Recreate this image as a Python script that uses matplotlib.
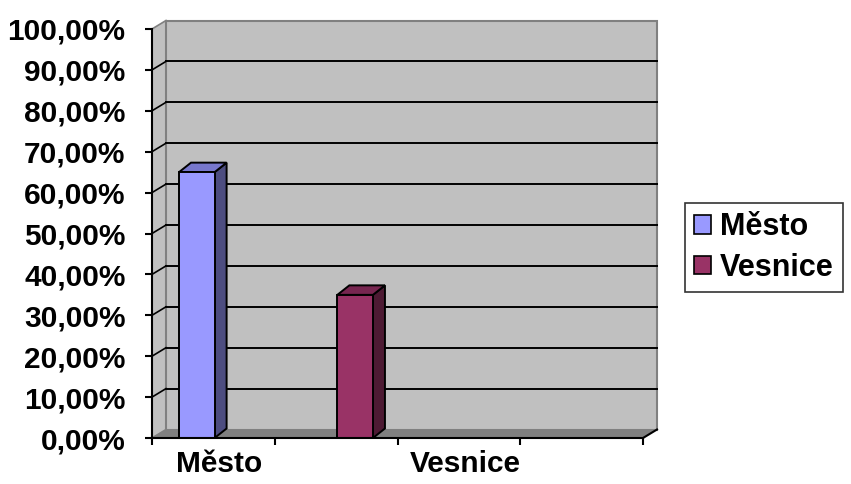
import matplotlib.pyplot as plt
from matplotlib.patches import Polygon, Patch
import numpy as np

# data
categories = ["Město", "", "Vesnice", ""]
series_names = ["Město", "Vesnice"]
mesto = [0.65, np.nan, np.nan, np.nan]
vesnice = [np.nan, 0.35, np.nan, np.nan]
y_ticks = [0.0, 0.1, 0.2, 0.3, 0.4, 0.5, 0.6, 0.7, 0.8, 0.9, 1.0]

front_colors = ["#9999FF", "#993366"]
top_colors = ["#7777CC", "#772650"]
side_colors = ["#4D4D80", "#4D1A33"]

plt.rcParams['font.family'] = ['Liberation Sans', 'DejaVu Sans']
plt.rcParams['font.weight'] = 'bold'
FS = 21.5

fig = plt.figure(figsize=(8.51, 4.84), dpi=100)
W, H = 851, 484
x0_px, x1_px, y0_px, y1_px = 152, 643, 438, 29
ax = fig.add_axes([x0_px / W, (H - y0_px) / H, (x1_px - x0_px) / W, (y0_px - y1_px) / H])
n = len(categories)
ax.set_xlim(0, n)
ax.set_ylim(0, 1)

# depth offsets in data units
px_x = n / (x1_px - x0_px)
px_y = 1.0 / (y0_px - y1_px)
dx, dy = 14 * px_x, 8.5 * px_y
bdx, bdy = 12 * px_x, 9.5 * px_y

wall = "#C0C0C0"
floor = "#808080"
kw = dict(clip_on=False)

# side wall, back wall, floor
ax.add_patch(Polygon([(0, 0), (0, 1), (dx, 1 + dy), (dx, dy)], closed=True,
                     facecolor=wall, edgecolor="none", zorder=0, **kw))
ax.add_patch(Polygon([(dx, dy), (dx, 1 + dy), (n + dx, 1 + dy), (n + dx, dy)], closed=True,
                     facecolor=wall, edgecolor="#808080", lw=1.5, zorder=0, **kw))
ax.add_patch(Polygon([(0, 0), (n, 0), (n + dx, dy), (dx, dy)], closed=True,
                     facecolor=floor, edgecolor="none", zorder=1, **kw))
ax.plot([0, dx], [0, dy], color="#808080", lw=1.2, zorder=1, **kw)
ax.plot([0, dx], [1, 1 + dy], color="#808080", lw=1.2, zorder=1, **kw)
ax.plot([n, n + dx], [0, dy], color="black", lw=1.5, zorder=4, **kw)

# gridlines on back and side walls
for v in y_ticks[1:-1]:
    ax.plot([dx, n + dx], [v + dy, v + dy], color="black", lw=1.4, zorder=1, **kw)
    ax.plot([0, dx], [v, v + dy], color="black", lw=1.2, zorder=1, **kw)

# 3d columns
w = 0.29
offsets = [-w + 0.01, 0.01]
for s, vals in enumerate([mesto, vesnice]):
    for i, v in enumerate(vals):
        if np.isnan(v):
            continue
        xl = i + 0.5 + offsets[s]
        xr = xl + w
        ec = dict(edgecolor="black", lw=1.4, joinstyle="miter", zorder=3, **kw)
        ax.add_patch(Polygon([(xr, 0), (xr + bdx, bdy), (xr + bdx, v + bdy), (xr, v)],
                             closed=True, facecolor=side_colors[s], **ec))
        ax.add_patch(Polygon([(xl, v), (xr, v), (xr + bdx, v + bdy), (xl + bdx, v + bdy)],
                             closed=True, facecolor=top_colors[s], **ec))
        ax.add_patch(Polygon([(xl, 0), (xr, 0), (xr, v), (xl, v)],
                             closed=True, facecolor=front_colors[s], **ec))

ax.patch.set_visible(False)
for side in ["top", "right"]:
    ax.spines[side].set_visible(False)
for side in ["left", "bottom"]:
    ax.spines[side].set_linewidth(1.5)
    ax.spines[side].set_zorder(5)

ax.set_yticks(y_ticks)
ax.set_yticklabels([f"{v * 100:.2f}%".replace(".", ",") for v in y_ticks])
ax.tick_params(axis="y", direction="out", length=5, width=1.5, labelsize=FS, pad=14)

ax.set_xticks(range(n + 1))
ax.set_xticklabels([])
ax.set_xticks([i + 0.55 for i in range(n)], minor=True)
ax.set_xticklabels(categories, minor=True)
ax.tick_params(axis="x", which="major", direction="out", length=5, width=1.5)
ax.tick_params(axis="x", which="minor", length=0, labelsize=FS, pad=9)

handles = [Patch(facecolor=c, edgecolor="black", lw=1.2) for c in front_colors]
leg = fig.legend(handles, series_names, loc="upper left", bbox_to_anchor=(685 / W, 1 - 203 / H),
                 prop=dict(size=22, weight="bold"), frameon=True, fancybox=False,
                 handlelength=0.55, handleheight=0.55, handletextpad=0.3,
                 borderpad=0.3, labelspacing=0.35, borderaxespad=0)
leg.get_frame().set_edgecolor("black")
leg.get_frame().set_linewidth(1.2)

fig.savefig("out.png", dpi=100)
